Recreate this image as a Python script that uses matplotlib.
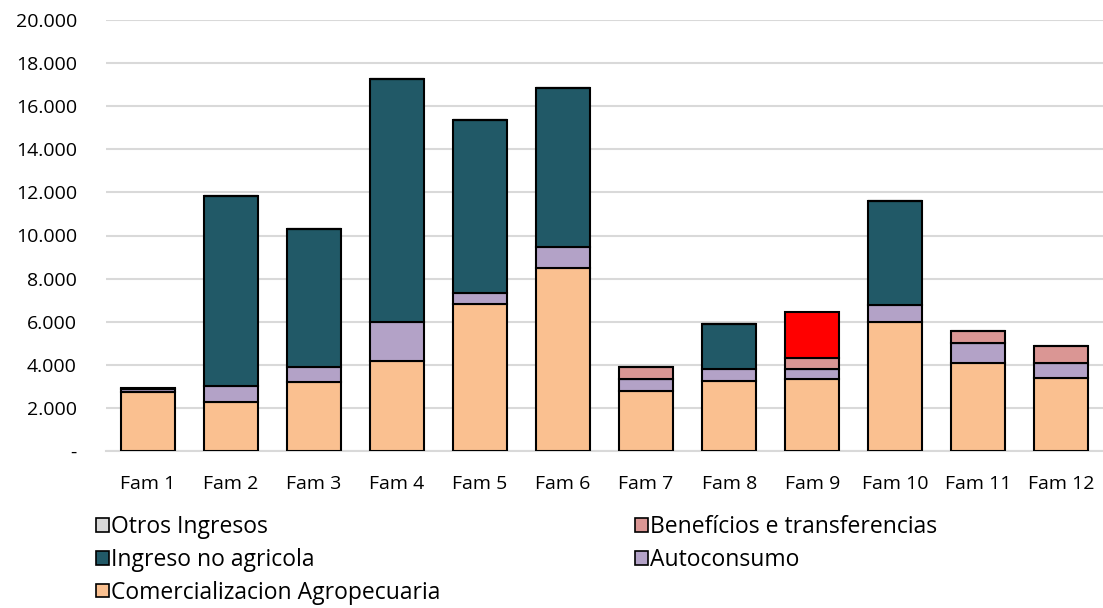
import matplotlib.pyplot as plt
from matplotlib.ticker import FuncFormatter
from matplotlib.patches import Patch

plt.rcParams['font.family'] = ['Open Sans', 'DejaVu Sans']

familias = ["Fam 1", "Fam 2", "Fam 3", "Fam 4", "Fam 5", "Fam 6",
            "Fam 7", "Fam 8", "Fam 9", "Fam 10", "Fam 11", "Fam 12"]

# valores (apilados de abajo hacia arriba)
comercializacion = [2740, 2270, 3200, 4180, 6820, 8490, 2780, 3250, 3340, 5990, 4080, 3390]
autoconsumo      = [130, 750, 700, 1810, 510, 980, 560, 550, 460, 780, 930, 690]
ingreso_no_agri  = [0, 8810, 6400, 11270, 8030, 7370, 0, 2090, 0, 4830, 0, 0]
beneficios       = [0, 0, 0, 0, 0, 0, 560, 0, 520, 0, 560, 790]
otros            = [60, 0, 0, 0, 0, 0, 0, 0, 2130, 0, 0, 0]

series = [
    ("Comercializacion Agropecuaria", comercializacion, "#FAC090"),
    ("Autoconsumo", autoconsumo, "#B3A2C7"),
    ("Ingreso no agricola", ingreso_no_agri, "#215967"),
    ("Benefícios e transferencias", beneficios, "#DA9694"),
    ("Otros Ingresos", otros, "#D9D9D9"),
]

fig = plt.figure(figsize=(11.03, 6.08), dpi=100)
ax = fig.add_axes([106 / 1103, 1 - 451 / 608, 997 / 1103, 431 / 608])

x = list(range(len(familias)))
base = [0] * len(familias)
for nombre, vals, color in series:
    colores = [color] * len(vals)
    if nombre == "Otros Ingresos":
        colores[8] = "#FF0000"  # Fam 9 resaltada en rojo
    ax.bar(x, vals, bottom=base, width=0.65, color=colores,
           edgecolor="black", linewidth=1.5, zorder=3)
    base = [b + v for b, v in zip(base, vals)]

ax.set_xlim(-0.5, len(familias) - 0.5)
ax.set_ylim(0, 20000)
ax.set_yticks(range(0, 20001, 2000))
ax.yaxis.set_major_formatter(FuncFormatter(
    lambda v, p: "-" if v == 0 else f"{int(v):,}".replace(",", ".")))
ax.set_xticks(x)
ax.set_xticklabels(familias)
ax.grid(axis="y", color="#D9D9D9", linewidth=1.5, zorder=0)
for s in ["top", "right", "left"]:
    ax.spines[s].set_visible(False)
ax.spines["bottom"].set_color("#D9D9D9")
ax.spines["bottom"].set_linewidth(1.5)
ax.tick_params(axis="both", length=0, labelsize=14, colors="black")
ax.tick_params(axis="y", pad=21)
ax.tick_params(axis="x", pad=17)

# leyenda
colores_ley = {n: c for n, v, c in series}
orden = ["Otros Ingresos", "Ingreso no agricola", "Comercializacion Agropecuaria",
         "Benefícios e transferencias", "Autoconsumo"]
handles = [Patch(facecolor=colores_ley[n], edgecolor="black", linewidth=1.2) for n in orden]
fig.legend(handles, orden, loc="upper left", bbox_to_anchor=(87 / 1103, 1 - 506 / 608),
           ncol=2, frameon=False, fontsize=16.5, handlelength=0.55, handleheight=0.55,
           handletextpad=0.1, columnspacing=8.5, labelspacing=0.38, borderaxespad=0)

plt.savefig("out.png", dpi=100)
